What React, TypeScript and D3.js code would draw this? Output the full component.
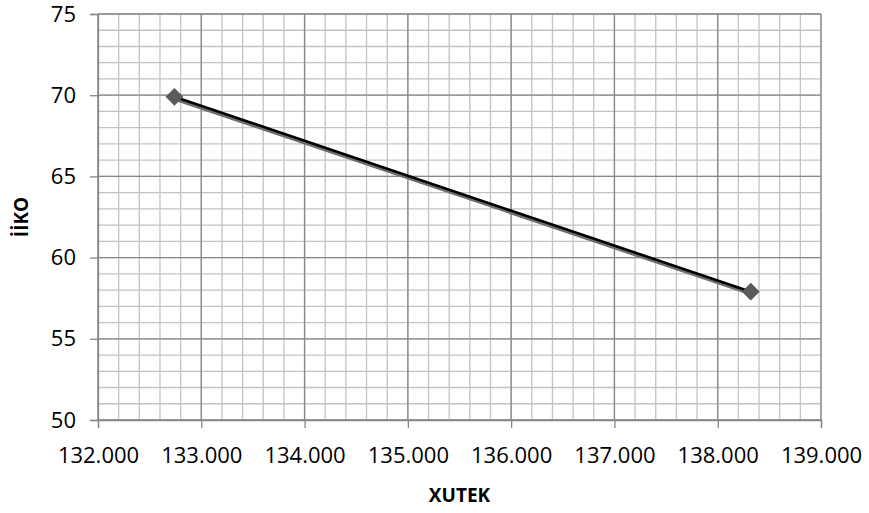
import React, { useRef, useEffect } from 'react';
import * as d3 from 'd3';

const xutek = [132.74, 138.32];
const iiko = [69.9, 57.9];
const xTicks = [132, 133, 134, 135, 136, 137, 138, 139];
const yTicks = [50, 55, 60, 65, 70, 75];

const width = 869;
const height = 513;
const margin = { top: 14, right: 48, bottom: 93, left: 98 };

export default function App() {
  const ref = useRef<SVGSVGElement | null>(null);

  useEffect(() => {
    if (!ref.current) return;
    const svg = d3.select(ref.current);
    svg.selectAll('*').remove();

    const innerW = width - margin.left - margin.right;
    const innerH = height - margin.top - margin.bottom;
    const font = "'Open Sans', 'Liberation Sans', sans-serif";

    const x = d3.scaleLinear().domain([132, 139]).range([0, innerW]);
    const y = d3.scaleLinear().domain([50, 75]).range([innerH, 0]);

    const g = svg.append('g').attr('transform', `translate(${margin.left},${margin.top})`);

    // minor grid
    const xMinor = d3.range(132, 139.001, 0.2);
    const yMinor = d3.range(50, 75.001, 1);
    g.selectAll('.xminor').data(xMinor).enter().append('line')
      .attr('x1', d => x(d)).attr('x2', d => x(d))
      .attr('y1', 0).attr('y2', innerH)
      .attr('stroke', '#c3c3c3').attr('stroke-width', 1.3);
    g.selectAll('.yminor').data(yMinor).enter().append('line')
      .attr('x1', 0).attr('x2', innerW)
      .attr('y1', d => y(d)).attr('y2', d => y(d))
      .attr('stroke', '#c3c3c3').attr('stroke-width', 1.3);

    // major grid
    g.selectAll('.xmajor').data(xTicks).enter().append('line')
      .attr('x1', d => x(d)).attr('x2', d => x(d))
      .attr('y1', 0).attr('y2', innerH)
      .attr('stroke', '#878787').attr('stroke-width', 1.3);
    g.selectAll('.ymajor').data(yTicks).enter().append('line')
      .attr('x1', 0).attr('x2', innerW)
      .attr('y1', d => y(d)).attr('y2', d => y(d))
      .attr('stroke', '#878787').attr('stroke-width', 1.3);

    // axes
    const xAxis = g.append('g').attr('transform', `translate(0,${innerH})`)
      .call(d3.axisBottom(x).tickValues(xTicks).tickSize(8).tickFormat(d => d3.format('.3f')(d as number)));
    const yAxis = g.append('g')
      .call(d3.axisLeft(y).tickValues(yTicks).tickSize(8));
    [xAxis, yAxis].forEach(a => {
      a.select('.domain').attr('stroke', '#878787').attr('stroke-width', 1.3);
      a.selectAll('.tick line').attr('stroke', '#878787').attr('stroke-width', 1.3);
      a.selectAll('.tick text').attr('fill', '#000').attr('font-family', font).attr('font-size', 22);
    });
    xAxis.selectAll('.tick text').attr('dy', '1.45em');
    yAxis.selectAll('.tick text').attr('dx', '-0.5em');

    const pts = xutek.map((v, i) => [x(v), y(iiko[i])] as [number, number]);
    const line = d3.line();

    // shadow
    g.append('path').attr('d', line(pts.map(p => [p[0] + 1.5, p[1] + 2.2] as [number, number])))
      .attr('fill', 'none').attr('stroke', '#6e6e6e').attr('stroke-width', 4);
    g.append('path').attr('d', line(pts))
      .attr('fill', 'none').attr('stroke', '#000').attr('stroke-width', 2.6);

    g.selectAll('.mk').data(pts).enter().append('path')
      .attr('transform', d => `translate(${d[0]},${d[1]}) rotate(45)`)
      .attr('d', 'M-6.3,-6.3H6.3V6.3H-6.3Z')
      .attr('fill', '#5a5a5a');

    svg.append('text')
      .attr('x', margin.left + innerW / 2).attr('y', 502)
      .attr('text-anchor', 'middle')
      .attr('font-family', font).attr('font-size', 19).attr('font-weight', 'bold')
      .text('XUTEK');

    svg.append('text')
      .attr('transform', `translate(28,${margin.top + innerH / 2}) rotate(-90)`)
      .attr('text-anchor', 'middle')
      .attr('font-family', font).attr('font-size', 19).attr('font-weight', 'bold')
      .text('İİKO');
  }, []);

  return (
    <svg ref={ref} width={width} height={height}
      style={{ position: 'absolute', left: 0, top: 0, background: '#fff' }} />
  );
}
